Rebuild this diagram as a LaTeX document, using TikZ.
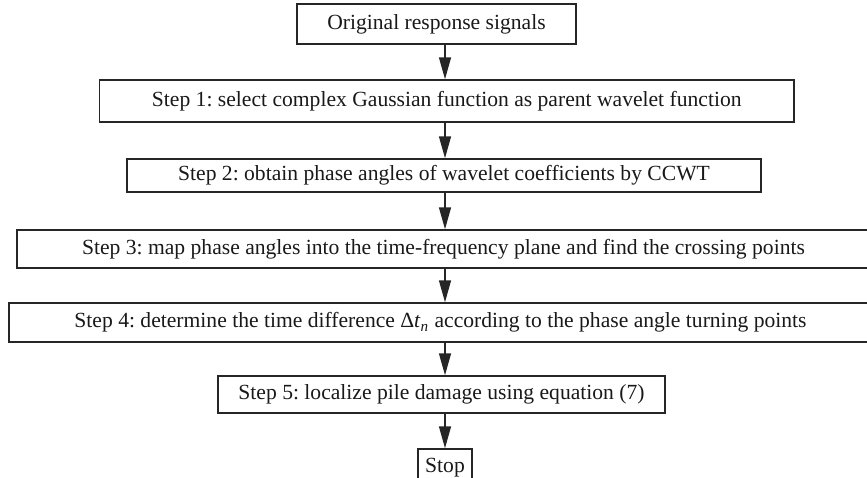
\documentclass[tikz,border=0pt]{standalone}
\usepackage{fontspec}
\setmainfont{Liberation Serif}
\usetikzlibrary{arrows.meta}
\frenchspacing
\tikzset{
  box/.style={draw=black!85, line width=0.75pt, inner sep=0pt, align=center,
    font=\fontsize{10.8pt}{12pt}\selectfont, text=black!90},
  arr/.style={draw=black!85, line width=0.75pt, -{Triangle[length=11pt,width=6pt]}}
}
\begin{document}
\begin{tikzpicture}[x=0.5pt,y=-0.5pt]
\useasboundingbox (0,0) rectangle (867,477);
\coordinate (ax) at (445,0);
\node[box, minimum width=139.5pt, minimum height=20pt] (b0) at (436.5,24) {Original response signals};
\node[box, minimum width=347.25pt, minimum height=21pt] (b1) at (446.75,101) {Step 1: select complex Gaussian function as parent wavelet function};
\node[box, minimum width=317pt, minimum height=16.5pt] (b2) at (444,175.5) {Step 2: obtain phase angles of wavelet coefficients by CCWT};
\node[box, minimum width=426.5pt, minimum height=19pt] (b3) at (443.5,249) {Step 3: map phase angles into the time-frequency plane and find the crossing points};
\node[box, minimum width=431.5pt, minimum height=19.5pt] (b4) at (440.5,322.5) {Step 4: determine the time difference Δ\textit{t}\textsubscript{\textit{n}} according to the phase angle turning points};
\node[box, minimum width=223.5pt, minimum height=18.5pt] (b5) at (441.5,394.5) {Step 5: localize pile damage using equation (7)};
\node[box, minimum width=27pt, minimum height=18.5pt] (b6) at (445,467.5) {Stop};
\draw[arr] (b0.south -| ax) -- (b1.north -| ax);
\draw[arr] (b1.south -| ax) -- (b2.north -| ax);
\draw[arr] (b2.south -| ax) -- (b3.north -| ax);
\draw[arr] (b3.south -| ax) -- (b4.north -| ax);
\draw[arr] (b4.south -| ax) -- (b5.north -| ax);
\draw[arr] (b5.south -| ax) -- (b6.north -| ax);
\end{tikzpicture}
\end{document}
